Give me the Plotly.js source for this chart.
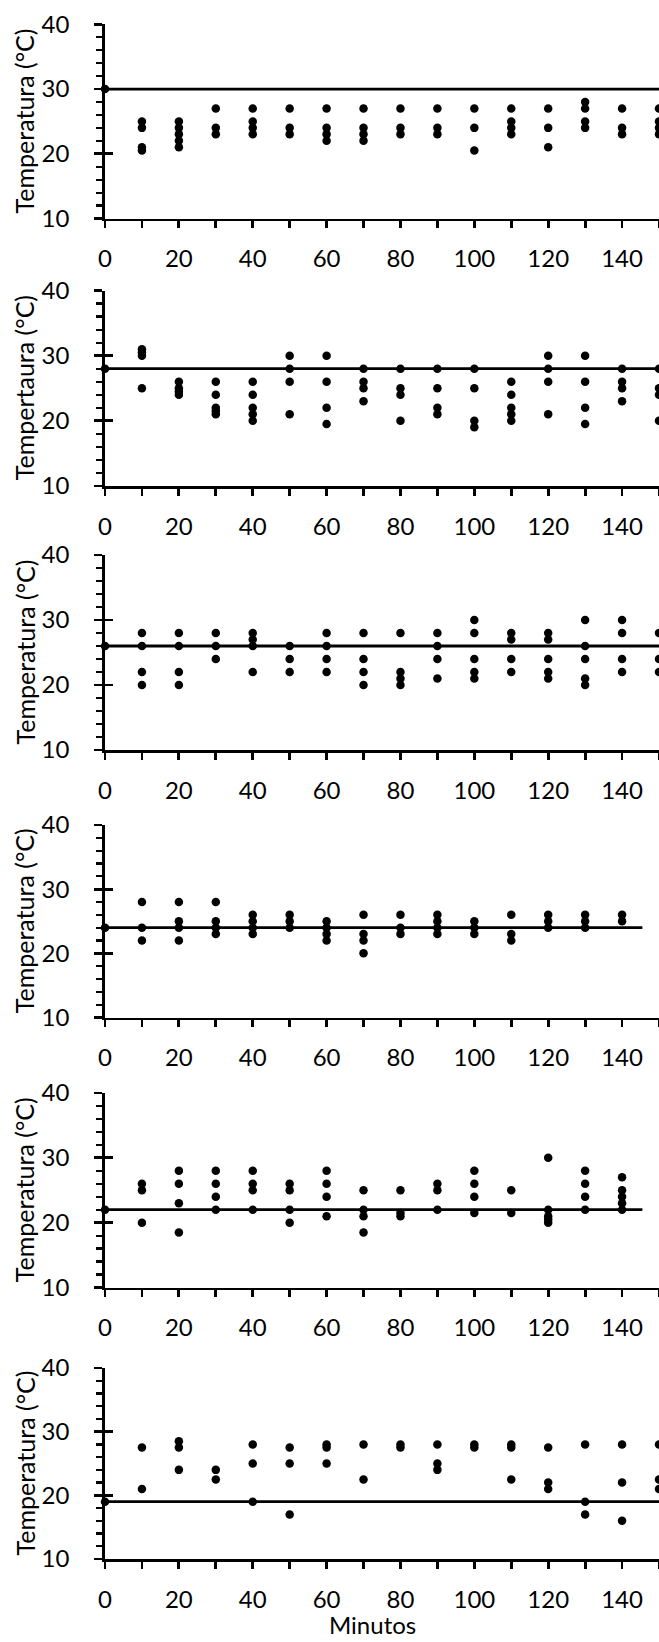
<!DOCTYPE html>
<html>
<head>
<meta charset="utf-8">
<script src="https://cdn.plot.ly/plotly-3.0.1.min.js"></script>
<style>
  html, body { margin: 0; padding: 0; background: #ffffff; }
  #chart { width: 659px; height: 1642px; }
</style>
</head>
<body>
<div id="chart"></div>
<script>
// ---------------- DATA ----------------
const minutos = [0, 10, 20, 30, 40, 50, 60, 70, 80, 90, 100, 110, 120, 130, 140, 150];

// temperatures observed at each minute (one inner list per minute)
const panel1Temps = [[30], [25, 24, 21, 20.5], [25, 24, 23, 22, 21], [27, 24, 23], [27, 25, 24, 23],
  [27, 24, 23], [27, 24, 23, 22], [27, 24, 23, 22], [27, 24, 23], [27, 24, 23], [27, 24, 20.5],
  [27, 25, 24, 23], [27, 24, 21], [28, 27, 25, 24], [27, 24, 23], [27, 25, 24, 23]];

const panel2Temps = [[28], [31, 30.5, 30, 25], [26, 25, 24.5, 24], [26, 24, 22, 21.5, 21], [26, 24, 22, 21, 20],
  [30, 28, 26, 21], [30, 26, 22, 19.5], [28, 26, 25, 23], [28, 25, 24, 20], [28, 25, 22, 21],
  [28, 25, 20, 19], [26, 24, 22, 21, 20], [30, 28, 26, 21], [30, 26, 22, 19.5], [28, 26, 25, 23], [28, 25, 24, 20]];

const panel3Temps = [[26], [28, 26, 22, 20], [28, 26, 22, 20], [28, 26, 24], [28, 27, 26, 22],
  [26, 24, 22], [28, 26, 24, 22], [28, 24, 22, 20], [28, 22, 21, 20], [28, 26, 24, 21],
  [30, 28, 24, 22, 21], [28, 27, 24, 22], [28, 27, 24, 22, 21], [30, 26, 24, 21, 20], [30, 28, 24, 22], [28, 24, 22]];

const panel4Temps = [[24], [28, 24, 22], [28, 25, 24, 22], [28, 25, 24, 23], [26, 25, 24, 23],
  [26, 25, 24], [25, 24, 23, 22], [26, 23, 22, 20], [26, 24, 23], [26, 25, 24, 23],
  [25, 24, 23], [26, 23, 22], [26, 25, 24], [26, 25, 24], [26, 25], []];

const panel5Temps = [[22], [26, 25, 20], [28, 26, 23, 18.5], [28, 26, 24, 22], [28, 26, 25, 22],
  [26, 25, 22, 20], [28, 26, 24, 21], [25, 22, 21, 18.5], [25, 21.5, 21], [26, 25, 22],
  [28, 26, 24, 21.5], [25, 21.5], [30, 22, 21, 20.5, 20], [28, 26, 24, 22], [27, 25, 24, 23, 22], []];

const panel6Temps = [[19], [27.5, 21], [28.5, 27.5, 24], [24, 22.5], [28, 25, 19],
  [27.5, 25, 17], [28, 27.5, 25], [28, 22.5], [28, 27.5], [28, 25, 24],
  [28, 27.5], [28, 27.5, 22.5], [27.5, 22, 21], [28, 19, 17], [28, 22, 16], [28, 22.5, 21]];

// horizontal reference line per panel
const refTemps = [30, 28, 26, 24, 22, 19];
const refStart = [0, 0, 0, 0, 0, 0];
const refEnd = [150, 150, 150, 145.5, 145.5, 150];

const yTitles = ['Temperatura (°C)', 'Tempertaura (°C)', 'Temperatura (°C)',
  'Temperatura (°C)', 'Temperatura (°C)', 'Temperatura (°C)'];
const xTitle = 'Minutos';

const xTickVals = [0, 20, 40, 60, 80, 100, 120, 140];
const yTickVals = [10, 20, 30, 40];

// ---------------- LAYOUT CONSTANTS ----------------
const W = 659, H = 1642;
const mT = 24, mB = 83, mL = 105, mR = 0;
const plotH = H - mT - mB;
const plotW = W - mL - mR;
// pixel top (y=40) and bottom (y=10) of each panel
const panelTopPx = [24.3, 290.5, 555, 825, 1093, 1368];
const panelBotPx = [218.5, 486, 750, 1017.5, 1287.5, 1559];
const toFrac = px => 1 - (px - mT) / plotH;
const titleCenterX = 24;

const FONT = 'Lato, "Open Sans", sans-serif';
const panels = [panel1Temps, panel2Temps, panel3Temps, panel4Temps, panel5Temps, panel6Temps];

const traces = [];
const layout = {
  width: W, height: H,
  margin: { l: mL, r: mR, t: mT, b: mB, pad: 0 },
  paper_bgcolor: '#ffffff', plot_bgcolor: '#ffffff',
  showlegend: false,
  font: { family: FONT, color: '#000000', size: 24 },
  annotations: []
};

panels.forEach((temps, i) => {
  const n = i + 1;
  const xs = [], ys = [];
  temps.forEach((list, k) => list.forEach(v => { xs.push(minutos[k]); ys.push(v); }));
  const xa = n === 1 ? 'x' : 'x' + n;
  const ya = n === 1 ? 'y' : 'y' + n;
  const yo = 'y' + (n + 6); // overlay axis that draws the inner half of the crossing major ticks
  traces.push({
    x: [refStart[i], refEnd[i]], y: [refTemps[i], refTemps[i]],
    xaxis: xa, yaxis: ya, type: 'scatter', mode: 'lines',
    line: { color: '#000000', width: 2.8 }, hoverinfo: 'skip'
  });
  traces.push({
    x: xs, y: ys, xaxis: xa, yaxis: ya, type: 'scatter', mode: 'markers',
    marker: { color: '#000000', size: 8.5 }, cliponaxis: false
  });
  traces.push({
    x: [], y: [], xaxis: xa, yaxis: yo, type: 'scatter', mode: 'markers', hoverinfo: 'skip'
  });
  const xkey = n === 1 ? 'xaxis' : 'xaxis' + n;
  const ykey = n === 1 ? 'yaxis' : 'yaxis' + n;
  const dom = [toFrac(panelBotPx[i]), toFrac(panelTopPx[i])];
  layout[xkey] = {
    domain: [0, 1], anchor: ya, range: [0, 150],
    showline: true, linecolor: '#000000', linewidth: 2.8,
    showgrid: false, zeroline: false,
    tickmode: 'array', tickvals: xTickVals, ticktext: xTickVals.map(String),
    ticks: 'outside', ticklen: 7, tickwidth: 2.8, tickcolor: '#000000',
    minor: { dtick: 10, tick0: 0, ticks: 'outside', ticklen: 7, tickwidth: 2.8, tickcolor: '#000000', showgrid: false },
    tickfont: { family: FONT, size: 24, color: '#000000' },
    ticklabelstandoff: 10,
    fixedrange: true
  };
  layout[ykey] = {
    domain: dom, anchor: xa, range: [10, 40],
    showline: true, linecolor: '#000000', linewidth: 2.8,
    showgrid: false, zeroline: false,
    tickmode: 'array', tickvals: yTickVals, ticktext: yTickVals.map(v => String(v) + '\u2009'),
    ticks: 'outside', ticklen: 8, tickwidth: 2.8, tickcolor: '#000000',
    minor: { dtick: 2, tick0: 10, ticks: 'outside', ticklen: 6, tickwidth: 2.2, tickcolor: '#000000', showgrid: false },
    tickfont: { family: FONT, size: 24, color: '#000000' },
    ticklabelstandoff: 17,
    fixedrange: true
  };
  layout['yaxis' + (n + 6)] = {
    domain: dom, anchor: xa, overlaying: ya, side: 'left', range: [10, 40],
    showline: false, showgrid: false, zeroline: false, showticklabels: false,
    tickmode: 'array', tickvals: yTickVals.slice(1),
    ticks: 'inside', ticklen: 8, tickwidth: 2.8, tickcolor: '#000000',
    fixedrange: true
  };
  layout.annotations.push({
    text: yTitles[i], textangle: -90, xref: 'paper', yref: 'paper',
    x: (titleCenterX - mL) / plotW,
    y: (dom[0] + dom[1]) / 2,
    xanchor: 'center', yanchor: 'middle', showarrow: false,
    font: { family: FONT, size: 25, color: '#000000' }
  });
});

layout.annotations.push({
  text: xTitle, xref: 'paper', yref: 'paper',
  x: (372 - mL) / plotW, y: toFrac(H - 1),
  xanchor: 'center', yanchor: 'bottom', showarrow: false,
  font: { family: FONT, size: 24, color: '#000000' }
});

Plotly.newPlot('chart', traces, layout, { staticPlot: true, displayModeBar: false });
</script>
</body>
</html>
